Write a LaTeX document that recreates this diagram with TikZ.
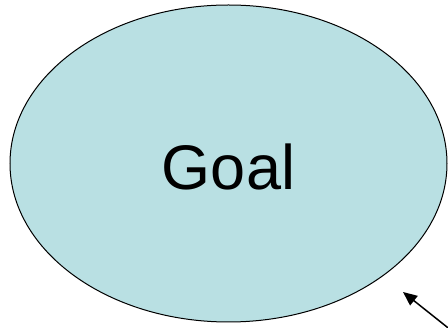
\documentclass[tikz,border=0pt]{standalone}
\usepackage{fontspec}
\setmainfont{Liberation Sans}
\usepackage{xcolor}
\definecolor{goalcyan}{RGB}{185,224,227}
\usetikzlibrary{arrows.meta, positioning, shapes.geometric}

\begin{document}
\begin{tikzpicture}[x=1pt, y=-1pt]

  % Frame of the picture
  \useasboundingbox (0,0) rectangle (448,328);

  % Goal ellipse
  \node[ellipse, draw=black, fill=goalcyan, line width=1pt,
        minimum width=437pt, minimum height=317pt, inner sep=0pt,
        text height=52pt, text depth=0pt,
        font=\fontsize{63}{70}\selectfont]
        (goal) at (228.5,163.5) {Goal};

  % Arrow coming in from the corner
  \coordinate (tail) at (452,331);
  \coordinate (tip) at (403,292);
  \draw[line width=1.5pt, -{Triangle[length=14pt, width=12pt]}] (tail) -- (tip);

\end{tikzpicture}
\end{document}
